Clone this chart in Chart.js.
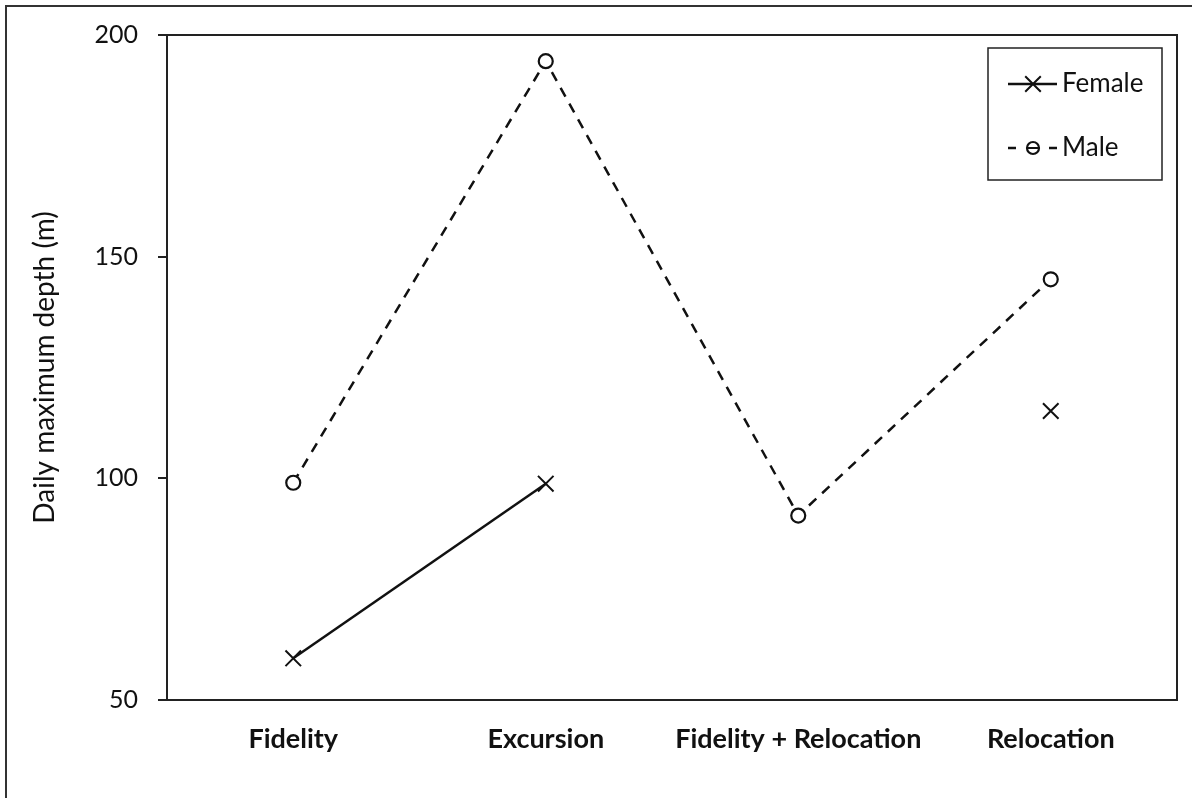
<!DOCTYPE html>
<html>
<head>
<meta charset="utf-8">
<script src="https://cdn.jsdelivr.net/npm/chart.js@4/dist/chart.umd.min.js"></script>
<style>
  html, body { margin: 0; padding: 0; background: #fff; }
  #wrap { width: 1192px; height: 798px; }
</style>
</head>
<body>
<div id="wrap"><canvas id="c" width="1192" height="798"></canvas></div>
<script>
const categories = ['Fidelity', 'Excursion', 'Fidelity + Relocation', 'Relocation'];
const femaleDepth = [59.4, 98.8, null, 115.2];
const maleDepth = [99.0, 194.1, 91.6, 144.9];
const seriesNames = ['Female', 'Male'];
const yTicks = [50, 100, 150, 200];
const yTitle = 'Daily maximum depth (m)';

const FONT = 'Lato, "Open Sans", sans-serif';
const INK = '#111';

const framePlugin = {
  id: 'frame',
  afterDraw(chart) {
    const ctx = chart.ctx;
    const a = chart.chartArea;
    ctx.save();
    ctx.strokeStyle = '#222';
    ctx.lineWidth = 2;
    // plot box top and right
    ctx.beginPath();
    ctx.moveTo(a.left, a.top);
    ctx.lineTo(a.right, a.top);
    ctx.lineTo(a.right, a.bottom);
    ctx.stroke();
    // outer figure border (left and top)
    ctx.strokeStyle = '#333';
    ctx.beginPath();
    ctx.moveTo(6, 798);
    ctx.lineTo(6, 6);
    ctx.lineTo(1192, 6);
    ctx.stroke();
    // legend
    const bx = 988, by = 48, bw = 174, bh = 132;
    ctx.lineWidth = 1.5;
    ctx.strokeStyle = '#222';
    ctx.strokeRect(bx, by, bw, bh);
    ctx.textBaseline = 'middle';
    ctx.textAlign = 'left';
    const rows = [84, 148];
    chart.data.datasets.forEach((ds, i) => {
      const y = rows[i];
      const dashed = ds.borderDash && ds.borderDash.length;
      ctx.strokeStyle = ds.borderColor;
      ctx.lineWidth = 2.5;
      ctx.setLineDash([]);
      ctx.beginPath();
      if (dashed) {
        ctx.moveTo(1008, y); ctx.lineTo(1016, y);
        ctx.moveTo(1049, y); ctx.lineTo(1057, y);
      } else {
        ctx.moveTo(1008, y); ctx.lineTo(1057, y);
      }
      ctx.stroke();
      ctx.fillStyle = ds.pointBackgroundColor;
      ctx.strokeStyle = ds.pointBorderColor;
      ctx.lineWidth = ds.pointBorderWidth;
      Chart.helpers.drawPoint(ctx, {
        pointStyle: ds.pointStyle,
        radius: dashed ? 6 : ds.pointRadius,
        borderWidth: ds.pointBorderWidth
      }, 1033, y);
      if (dashed) {
        ctx.lineWidth = 2;
        ctx.beginPath();
        ctx.moveTo(1027, y); ctx.lineTo(1039, y);
        ctx.stroke();
      }
      ctx.font = '26px ' + FONT;
      ctx.fillStyle = INK;
      ctx.fillText(ds.label, 1062, y);
    });
    ctx.restore();
  }
};

new Chart(document.getElementById('c'), {
  type: 'line',
  data: {
    labels: categories,
    datasets: [
      {
        label: seriesNames[0],
        data: femaleDepth,
        borderColor: INK,
        borderWidth: 2.5,
        pointStyle: 'crossRot',
        pointRadius: 11,
        pointBorderWidth: 2,
        pointBorderColor: INK,
        pointBackgroundColor: INK,
        spanGaps: false,
        tension: 0
      },
      {
        label: seriesNames[1],
        data: maleDepth,
        borderColor: INK,
        borderWidth: 2.5,
        borderDash: [10, 8],
        pointStyle: 'circle',
        pointRadius: 7,
        pointBorderWidth: 2.2,
        pointBorderColor: INK,
        pointBackgroundColor: '#fff',
        tension: 0
      }
    ]
  },
  options: {
    responsive: false,
    animation: false,
    devicePixelRatio: 1,
    layout: { padding: { left: 0, top: 33, right: 15, bottom: 0 } },
    plugins: {
      legend: { display: false },
      tooltip: { enabled: false }
    },
    scales: {
      x: {
        offset: true,
        grid: { display: false },
        border: { display: true, color: '#222', width: 2 },
        ticks: {
          color: INK,
          padding: 15,
          maxRotation: 0,
          font: { family: FONT, size: 27, weight: 'bold' }
        },
        afterFit(scale) { scale.height = 98; }
      },
      y: {
        min: 50,
        max: 200,
        afterBuildTicks(scale) { scale.ticks = yTicks.map(v => ({ value: v })); },
        grid: { drawOnChartArea: false, drawTicks: true, tickLength: 9, color: '#222', lineWidth: 2 },
        border: { display: true, color: '#222', width: 2 },
        ticks: {
          color: INK,
          padding: 20,
          font: { family: FONT, size: 25 }
        },
        title: {
          display: true,
          text: yTitle,
          color: INK,
          padding: { top: 28, bottom: 0 },
          font: { family: FONT, size: 28 }
        },
        afterFit(scale) { scale.width = 167; }
      }
    }
  },
  plugins: [framePlugin]
});
</script>
</body>
</html>
